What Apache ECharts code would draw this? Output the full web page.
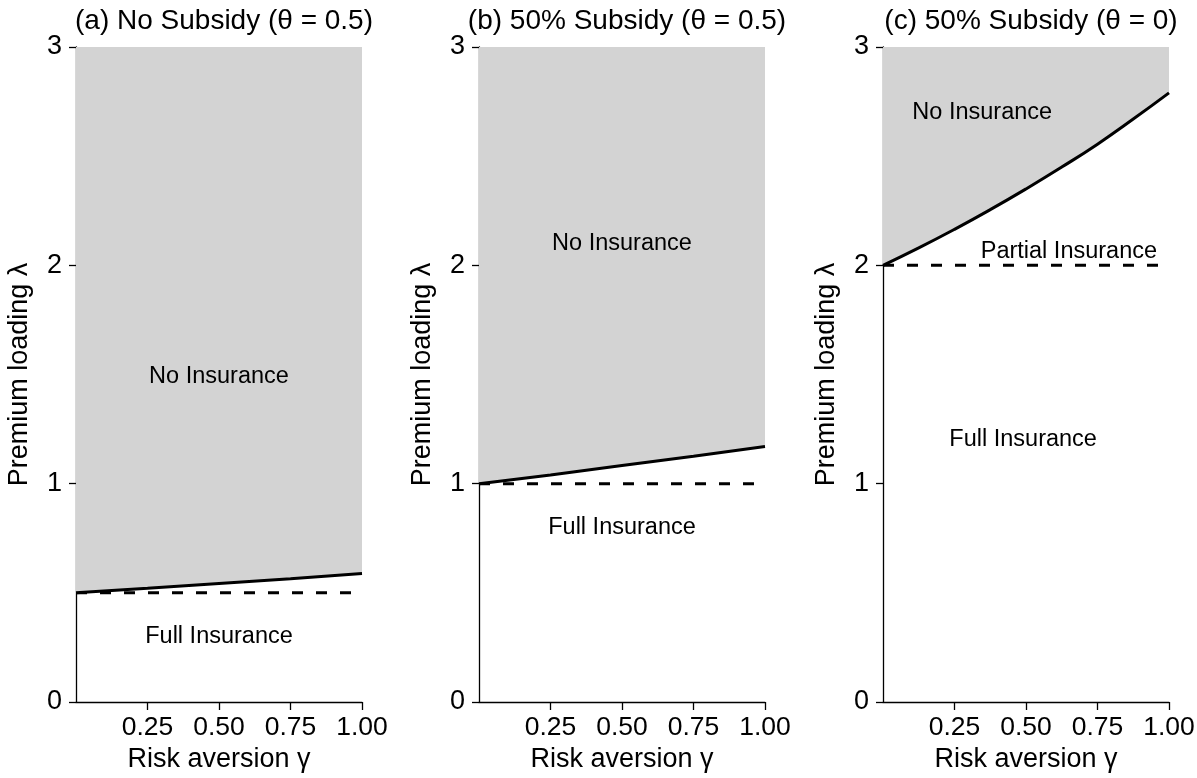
<!DOCTYPE html>
<html>
<head>
<meta charset="utf-8">
<script src="https://cdn.jsdelivr.net/npm/echarts@6/dist/echarts.min.js"></script>
<style>
  html, body { margin: 0; padding: 0; background: #fff; }
  #chart { width: 1197px; height: 778px; }
</style>
</head>
<body>
<div id="chart"></div>
<script>
// Risk aversion grid points along each boundary
const gammaCoarse = [0, 0.25, 0.5, 0.75, 1];
const gammaFine = [0, 0.125, 0.25, 0.375, 0.5, 0.625, 0.75, 0.875, 1];

// Boundary between "No Insurance" and the insured regions (premium loading λ)
const boundaryA = [0.50, 0.521, 0.543, 0.565, 0.588];
const boundaryB = [1.00, 1.04, 1.083, 1.126, 1.17];
const boundaryC = [2.00, 2.08, 2.165, 2.255, 2.35, 2.45, 2.555, 2.67, 2.79];

// Full-insurance threshold (dashed line) for each panel
const thresholds = [0.5, 1, 2];

const panelTitles = [
  '(a) No Subsidy (θ = 0.5)',
  '(b) 50% Subsidy (θ = 0.5)',
  '(c) 50% Subsidy (θ = 0)'
];

const yTickValues = [0, 1, 2, 3];
const xTickValues = [0.25, 0.5, 0.75, 1];

// Region annotations in data coordinates (γ, λ)
const regionNames = [
  ['No Insurance', 'Full Insurance'],
  ['No Insurance', 'Full Insurance'],
  ['No Insurance', 'Partial Insurance', 'Full Insurance']
];
const regionGamma = [[0.5, 0.5], [0.5, 0.5], [0.347, 0.65, 0.49]];
const regionLambda = [[1.49, 0.30], [2.10, 0.80], [2.70, 2.062, 1.20]];

const FONT = '"Liberation Sans", Arial, Helvetica, sans-serif';
const panelLeft = [76, 479, 883];
const panelWidth = 286;
const panelTop = 47;
const panelHeight = 655;

const boundaries = [
  { x: gammaCoarse, y: boundaryA },
  { x: gammaCoarse, y: boundaryB },
  { x: gammaFine, y: boundaryC }
];

const option = {
  backgroundColor: '#ffffff',
  animation: false,
  textStyle: { fontFamily: FONT },
  title: [],
  grid: [],
  xAxis: [],
  yAxis: [],
  series: []
};

panelTitles.forEach((t, i) => {
  option.title.push({
    text: t,
    left: panelLeft[i] + panelWidth / 2,
    top: 2,
    textAlign: 'center',
    textStyle: { fontFamily: FONT, fontSize: 28, fontWeight: 'normal', color: '#000' }
  });
  option.grid.push({
    left: panelLeft[i], top: panelTop, width: panelWidth, height: panelHeight,
    containLabel: false, outerBoundsMode: 'none'
  });
  option.xAxis.push({
    type: 'value', gridIndex: i, min: 0, max: 1, interval: 0.25,
    name: 'Risk aversion γ', nameLocation: 'middle', nameGap: 41,
    nameTextStyle: { fontFamily: FONT, fontSize: 27, color: '#000' },
    axisLine: { show: true, onZero: false, lineStyle: { color: '#000', width: 1.3 } },
    axisTick: { show: true, length: 8, customValues: xTickValues, lineStyle: { color: '#000', width: 1.3 } },
    axisLabel: {
      show: true, margin: 12, fontFamily: FONT, fontSize: 26.5, color: '#000',
      customValues: xTickValues,
      formatter: v => (v === 0 ? '' : v.toFixed(2))
    },
    splitLine: { show: false }
  });
  option.yAxis.push({
    type: 'value', gridIndex: i, min: 0, max: 3, interval: 1,
    name: 'Premium loading λ', nameLocation: 'middle', nameGap: 43,
    nameTextStyle: { fontFamily: FONT, fontSize: 27, color: '#000' },
    axisLine: { show: true, onZero: false, lineStyle: { color: '#000', width: 1.3 } },
    axisTick: { show: true, length: 7, lineStyle: { color: '#000', width: 1.3 } },
    axisLabel: { show: true, margin: 14, fontFamily: FONT, fontSize: 27, color: '#000' },
    splitLine: { show: false }
  });

  // Shaded "No Insurance" region above the boundary, filled up to the axis max
  const b = boundaries[i];
  option.series.push({
    type: 'line', xAxisIndex: i, yAxisIndex: i,
    data: b.x.map((g, k) => [g, b.y[k]]),
    smooth: i === 2,
    showSymbol: false,
    lineStyle: { color: '#000', width: 3 },
    areaStyle: { origin: 'end', color: '#d3d3d3', opacity: 1 },
    z: 3
  });

  // Dashed full-insurance threshold
  option.series.push({
    type: 'line', xAxisIndex: i, yAxisIndex: i,
    data: [[0, thresholds[i]], [1, thresholds[i]]],
    showSymbol: false,
    lineStyle: { color: '#000', width: 3, type: [11, 13] },
    z: 2
  });

  // Region annotations
  option.series.push({
    type: 'scatter', xAxisIndex: i, yAxisIndex: i,
    symbolSize: 0,
    itemStyle: { color: '#000', opacity: 0 },
    data: regionNames[i].map((n, k) => ({ name: n, value: [regionGamma[i][k], regionLambda[i][k]] })),
    label: {
      show: true, position: 'inside', formatter: p => p.name,
      fontFamily: FONT, fontSize: 23.5, color: '#000', opacity: 1,
      textBorderWidth: 0, textBorderColor: 'transparent'
    },
    emphasis: { disabled: true },
    silent: true,
    z: 5
  });
});

const chart = echarts.init(document.getElementById('chart'), null, { renderer: 'canvas' });
chart.setOption(option);
</script>
</body>
</html>
